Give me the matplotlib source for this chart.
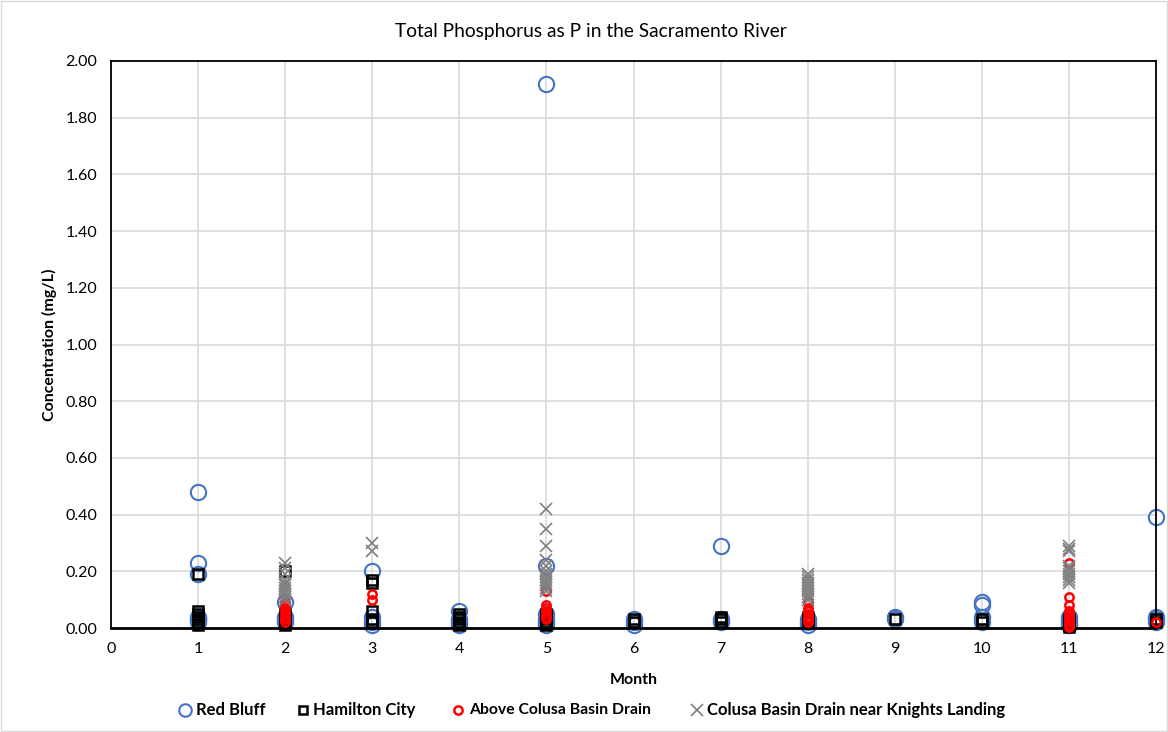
import matplotlib
matplotlib.use("Agg")
import matplotlib.pyplot as plt
from matplotlib.lines import Line2D

plt.rcParams['font.family'] = ['Lato', 'DejaVu Sans']

# Red Bluff
rb_month = [1,1,1,1,1,1,1, 2,2,2,2, 3,3,3,3, 4,4,4,4, 5,5,5,5,5,5, 6,6,6, 7,7,7, 8,8,8, 9,9, 10,10,10,10, 11,11,11,11, 12,12,12,12]
rb_value = [0.48,0.23,0.19,0.04,0.03,0.02,0.03, 0.09,0.03,0.02,0.04, 0.20,0.04,0.02,0.01, 0.06,0.03,0.02,0.01,
            1.92,0.22,0.05,0.03,0.01,0.02, 0.03,0.02,0.01, 0.29,0.03,0.02, 0.03,0.02,0.01, 0.04,0.03,
            0.09,0.08,0.04,0.02, 0.04,0.03,0.02,0.01, 0.39,0.04,0.03,0.02]

# Hamilton City
hc_month = [1,1,1,1,1,1,1, 2,2,2,2,2,2, 3,3,3,3,3, 4,4,4,4,4, 5,5,5,5,5, 6,6, 7,7,7, 8,8,8, 9, 10,10, 11,11,11,11, 12,12]
hc_value = [0.19,0.06,0.05,0.04,0.03,0.02,0.01, 0.20,0.05,0.04,0.03,0.02,0.01, 0.17,0.16,0.06,0.03,0.02,
            0.05,0.04,0.03,0.02,0.01, 0.05,0.04,0.03,0.02,0.01, 0.03,0.02, 0.04,0.03,0.02, 0.04,0.03,0.02,
            0.03, 0.03,0.02, 0.03,0.02,0.01,0.005, 0.03,0.02]

# Above Colusa Basin Drain
ac_month = [2,2,2,2,2,2,2,2, 3,3, 5,5,5,5,5,5,5, 8,8,8,8,8,8,8, 11,11,11,11,11,11,11,11,11,11, 12]
ac_value = [0.09,0.08,0.07,0.06,0.05,0.04,0.03,0.02, 0.12,0.10, 0.13,0.08,0.07,0.06,0.05,0.04,0.03,
            0.09,0.07,0.06,0.05,0.04,0.03,0.02, 0.23,0.11,0.08,0.06,0.05,0.04,0.03,0.02,0.01,0.005, 0.02]

# Colusa Basin Drain near Knights Landing
kl_month = [2]*11 + [3]*2 + [5]*13 + [8]*10 + [11]*10
kl_value = [0.23,0.21,0.19,0.17,0.16,0.15,0.14,0.13,0.12,0.11,0.10,
            0.30,0.27,
            0.42,0.35,0.29,0.24,0.22,0.20,0.19,0.18,0.17,0.16,0.15,0.14,0.13,
            0.19,0.18,0.17,0.16,0.15,0.14,0.13,0.12,0.11,0.10,
            0.29,0.28,0.27,0.22,0.21,0.20,0.19,0.18,0.17,0.16]

x_ticks = list(range(0, 13))
y_ticks = [0.0, 0.2, 0.4, 0.6, 0.8, 1.0, 1.2, 1.4, 1.6, 1.8, 2.0]
labels = ['Red Bluff', 'Hamilton City', 'Above Colusa Basin Drain', 'Colusa Basin Drain near Knights Landing']

W, H = 1168, 732
fig = plt.figure(figsize=(W/100, H/100), dpi=100)
ax = fig.add_axes([111/W, 1-628/H, (1156-111)/W, (628-61)/H])

styles = [
    dict(marker='o', markersize=11, markerfacecolor='none', markeredgecolor='#4472C4', markeredgewidth=1.5),
    dict(marker='s', markersize=6.5, markerfacecolor='none', markeredgecolor='black', markeredgewidth=1.8),
    dict(marker='o', markersize=6, markerfacecolor='none', markeredgecolor='#FF0000', markeredgewidth=1.8),
    dict(marker='x', markersize=8, markeredgecolor='#7F7F7F', markeredgewidth=1.2),
]
series = [(rb_month, rb_value, 2), (hc_month, hc_value, 3), (ac_month, ac_value, 4), (kl_month, kl_value, 5)]
for (mx, vy, z), st, lab in zip(series, styles, labels):
    ax.plot(mx, vy, linestyle='none', label=lab, zorder=z, clip_on=False, **st)

ax.set_xlim(0, 12)
ax.set_ylim(0, 2.0)
ax.set_xticks(x_ticks)
ax.set_yticks(y_ticks)
ax.set_xticklabels([str(v) for v in x_ticks])
ax.set_yticklabels([f"{v:.2f}" for v in y_ticks])
ax.tick_params(axis='both', length=0, labelsize=11.5, colors='#000000', pad=10)
ax.grid(True, color='#D9D9D9', linewidth=1.2)
ax.set_axisbelow(True)
for s in ax.spines.values():
    s.set_color('black')
    s.set_linewidth(1.3)
ax.spines['bottom'].set_linewidth(2)

ax.set_xlabel('Month', fontsize=11.5, fontweight='bold', labelpad=12)
ax.set_ylabel('Concentration (mg/L)', fontsize=11.5, fontweight='bold', labelpad=6)
fig.text(591/W, 1-31/H, 'Total Phosphorus as P in the Sacramento River', ha='center', va='center', fontsize=13.8)

# legend drawn entry by entry
marker_x = [185, 303, 458, 697]
text_x = [196, 313, 469, 707]
leg_y = 1-710/H
leg_sizes = [9, 6, 6, 9]
leg_font = [12, 12, 11.3, 12]
for st, lab, mx, tx, ms, fs in zip(styles, labels, marker_x, text_x, leg_sizes, leg_font):
    s2 = dict(st)
    s2['markersize'] = ms
    fig.add_artist(Line2D([mx/W], [leg_y], linestyle='none', transform=fig.transFigure, **s2))
    fig.text(tx/W, leg_y, lab, ha='left', va='center', fontsize=fs, fontweight='bold')

fig.patches.append(plt.Rectangle((0.001, 0.001), 0.998, 0.998, transform=fig.transFigure,
                                 fill=False, edgecolor='#D9D9D9', linewidth=1))
fig.savefig('out.png', dpi=100)
